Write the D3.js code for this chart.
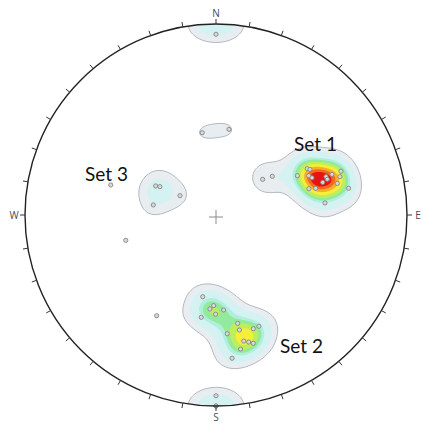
<!DOCTYPE html>
<html><head><meta charset="utf-8">
<script src="https://cdn.jsdelivr.net/npm/d3@7"></script>
<style>html,body{margin:0;padding:0;background:#fff;overflow:hidden}</style>
</head><body>
<svg id="net" width="423" height="429"></svg>
<script>
// Poles to discontinuity planes, lower-hemisphere equal-area net.
// Trend and plunge in degrees.
const set1Trend  = [52.6, 55.5, 64.2, 63.1, 64.1, 67.0, 68.8, 73.0, 70.8, 72.2, 70.7, 70.7, 72.8, 75.4, 78.6, 74.2, 75.0, 83.7];
const set1Plunge = [64.9, 60.7, 50.9, 45.5, 44.5, 46.2, 45.2, 41.2, 38.9, 38.7, 35.9, 31.3, 32.6, 34.7, 29.9, 48.1, 45.1, 42.1];

const set2Trend  = [189.2, 181.5, 180.2, 175.4, 188.2, 168.7, 168.5, 174.6, 161.8, 158.9, 167.6, 165.6, 163.8, 169.6, 173.6, 183.7];
const set2Plunge = [54.3, 50.8, 46.9, 48.7, 45.0, 41.7, 38.5, 37.6, 37.4, 37.6, 32.9, 31.9, 30.7, 29.4, 25.5, 49.2];

const set3Trend  = [295.7, 296.8, 298.2, 279.1];
const set3Plunge = [61.3, 63.1, 72.6, 62.8];

const otherTrend  = [285.9, 254.3, 210.5, 350.5, 8.6, 180.0, 180.0, 180.0, 0.0];
const otherPlunge = [42.2, 49.4, 38.7, 54.0, 52.6, 0.0, 0.0, 6.0, 6.0];

const setLabels = ["Set 1", "Set 2", "Set 3"];
const compassLabels = ["N", "E", "S", "W"];
const compassAngles = [0, 90, 180, 270];

// Density contour intervals (sum of Fisher kernel weights) and fills
const contourLevels = [1.1, 2.0, 3.5, 4.1, 4.8, 5.6, 6.4, 7.1, 7.7];
const levelColors = ["#e7edf1", "#d3f2f1", "#b0efdd", "#93e99c", "#bdef5c", "#f5ef3a", "#f8b02c", "#f26a1c", "#e81212"];

const cx = 216, cy = 215, R = 191;
const kappa = 100;

const svg = d3.select("#net");
const rad = Math.PI / 180;
const rScale = d3.scaleLinear().domain([0, 1]).range([0, R]);

function project(tr, pl) {
  const theta = (90 - pl) * rad;
  const r = rScale(Math.SQRT2 * Math.sin(theta / 2));
  const p = d3.pointRadial(tr * rad, r);
  return [cx + p[0], cy + p[1]];
}
function toVec(tr, pl) {
  const t = tr * rad, p = pl * rad;
  return [Math.cos(p) * Math.sin(t), Math.cos(p) * Math.cos(t), Math.sin(p)];
}

const allTrend = [...set1Trend, ...set2Trend, ...set3Trend, ...otherTrend];
const allPlunge = [...set1Plunge, ...set2Plunge, ...set3Plunge, ...otherPlunge];
const poles = allTrend.map((t, i) => ({ trend: t, plunge: allPlunge[i], v: toVec(t, allPlunge[i]) }));

// Density grid over the net (axial Fisher kernel)
const pad = 3;
const x0 = cx - R - pad, y0 = cy - R - pad;
const n = 2 * (R + pad) + 1;
const grid = new Float64Array(n * n);
for (let j = 0; j < n; j++) {
  for (let i = 0; i < n; i++) {
    const dx = x0 + i - cx, dy = cy - (y0 + j);
    const rr = Math.min(Math.hypot(dx, dy) / R, 1);
    const theta = 2 * Math.asin(rr / Math.SQRT2);
    const pl = Math.PI / 2 - theta;
    const tr = Math.atan2(dx, dy);
    const vx = Math.cos(pl) * Math.sin(tr), vy = Math.cos(pl) * Math.cos(tr), vz = Math.sin(pl);
    let s = 0;
    for (const p of poles) {
      const c = Math.abs(vx * p.v[0] + vy * p.v[1] + vz * p.v[2]);
      s += Math.exp(kappa * (c - 1));
    }
    grid[j * n + i] = s;
  }
}

const contours = d3.contours().size([n, n]).thresholds(contourLevels)(grid);

svg.append("defs").append("clipPath").attr("id", "netClip")
  .append("circle").attr("cx", cx).attr("cy", cy).attr("r", R);

const gC = svg.append("g").attr("clip-path", "url(#netClip)")
  .append("g").attr("transform", `translate(${x0 - 0.5},${y0 - 0.5})`);
const path = d3.geoPath();
gC.selectAll("path").data(contours).join("path")
  .attr("d", path)
  .attr("fill", (d, i) => levelColors[i])
  .attr("stroke", (d, i) => i === 0 ? "#a3abb0" : "none")
  .attr("stroke-width", 0.8);

// Centre cross
svg.append("path").attr("d", `M${cx - 7},${cy + 2}H${cx + 7}M${cx},${cy - 5}V${cy + 9}`)
  .attr("stroke", "#8c8c8c").attr("stroke-width", 1).attr("fill", "none");

// Poles
svg.append("g").selectAll("circle").data(poles).join("circle")
  .attr("cx", d => project(d.trend, d.plunge)[0])
  .attr("cy", d => project(d.trend, d.plunge)[1])
  .attr("r", 2.1)
  .attr("fill", "#d9d9d9")
  .attr("stroke", "#858585")
  .attr("stroke-width", 0.9);

// Primitive circle and 10° ticks
svg.append("circle").attr("cx", cx).attr("cy", cy).attr("r", R)
  .attr("fill", "none").attr("stroke", "#222").attr("stroke-width", 1.4);
const ticks = d3.range(0, 360, 10);
svg.append("g").selectAll("line").data(ticks).join("line")
  .attr("x1", a => cx + d3.pointRadial(a * rad, R)[0])
  .attr("y1", a => cy + d3.pointRadial(a * rad, R)[1])
  .attr("x2", a => cx + d3.pointRadial(a * rad, R + 5)[0])
  .attr("y2", a => cy + d3.pointRadial(a * rad, R + 5)[1])
  .attr("stroke", "#333").attr("stroke-width", 1);

// Compass letters
svg.append("g").selectAll("text").data(compassLabels).join("text")
  .attr("x", (d, i) => cx + d3.pointRadial(compassAngles[i] * rad, R + 11)[0])
  .attr("y", (d, i) => cy + d3.pointRadial(compassAngles[i] * rad, R + 11)[1])
  .attr("text-anchor", "middle").attr("dominant-baseline", "central")
  .attr("font-family", "Open Sans, sans-serif").attr("font-size", 10)
  .attr("fill", "#4a4a55").text(d => d);

// Set labels
const labelPos = [[294, 151], [280, 353], [85, 181]];
svg.append("g").selectAll("text").data(setLabels).join("text")
  .attr("x", (d, i) => labelPos[i][0]).attr("y", (d, i) => labelPos[i][1])
  .attr("font-family", "Lato, sans-serif").attr("font-size", 19)
  .attr("fill", "#111").text(d => d);
</script>
</body></html>
